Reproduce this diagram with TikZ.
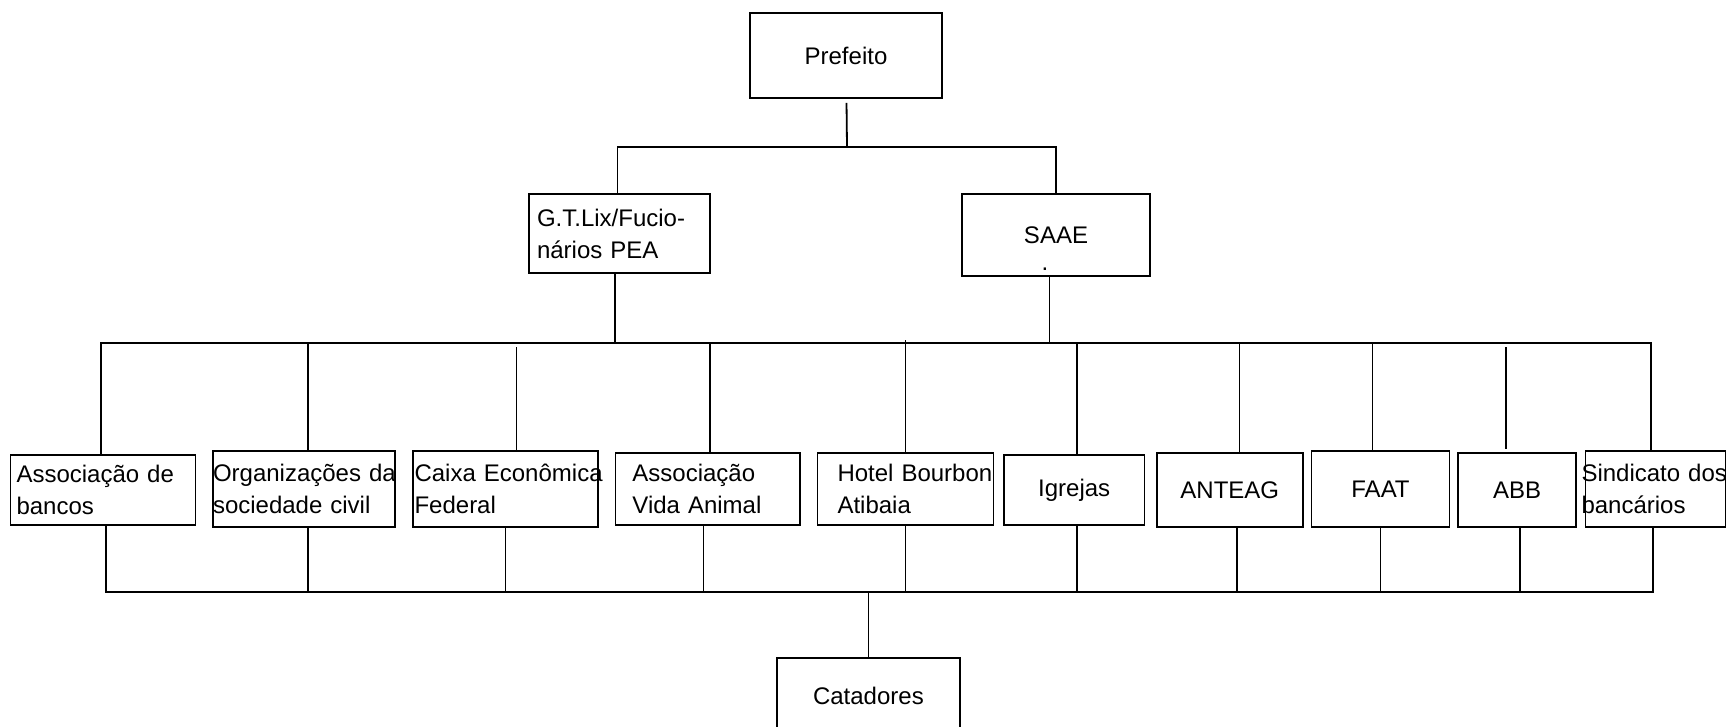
\documentclass[tikz,border=0pt]{standalone}
\usepackage{fontspec}
\setmainfont{Liberation Sans}
\usetikzlibrary{calc}
\tikzset{
    texto/.style={inner sep=0pt, font=\fontsize{24pt}{32pt}\selectfont},
    caixa/.style={texto, draw, line width=1.8pt},
    liga/.style={line width=1.8pt},
}

\begin{document}
\begin{tikzpicture}[x=1pt,y=-1pt]
    \useasboundingbox (0,0) rectangle (1726,727);
    \clip (0,0) rectangle (1726,727);
    \node[caixa, minimum width=192pt, minimum height=85pt] (pref) at (846,55.5) {Prefeito};
    \node[caixa, align=left, text width=165pt, inner xsep=8pt, minimum height=79pt] (gt) at (619.5,233.5) {\mbox{G.T.Lix/Fucio-}\\nários PEA};
    \node[caixa, minimum width=188pt, minimum height=82pt] (saae) at (1056,235) {SAAE};
    \node[texto] (ponto) at (1045,269) {.};

    \node[caixa, align=left, text width=173pt, inner xsep=6pt, minimum height=70pt] (assoc) at (103,490) {\mbox{Associação de}\\bancos};
    \node[caixa, align=left, text width=182pt, inner xsep=0pt, minimum height=76pt] (org) at (304,489) {\mbox{Organizações da}\\sociedade civil};
    \node[caixa, align=left, text width=181.7pt, inner xsep=1.5pt, minimum height=76pt] (caixa) at (505.4,489) {\mbox{Caixa Econômica}\\Federal};
    \node[caixa, align=left, text width=150.5pt, inner xsep=17pt, minimum height=72.3pt] (vida) at (707.7,488.8) {Associação\\Vida Animal};
    \node[caixa, align=left, text width=136pt, inner xsep=20pt, minimum height=72.3pt] (hotel) at (905.5,488.8) {\mbox{Hotel Bourbon}\\Atibaia};
    \node[caixa, minimum width=140.4pt, minimum height=70pt] (igr) at (1074.2,490) {Igrejas};
    \node[caixa, minimum width=145.6pt, minimum height=74.6pt] (ant) at (1229.8,490) {ANTEAG};
    \node[caixa, minimum width=138pt, minimum height=76.6pt] (faat) at (1380.5,489) {FAAT};
    \node[caixa, minimum width=117.7pt, minimum height=74.6pt] (abb) at (1517,490) {ABB};
    \node[caixa, align=left, text width=148pt, inner xsep=-4pt, minimum height=76.6pt] (sind) at (1655.5,489) {\mbox{Sindicato dos}\\bancários};

    \node[caixa, minimum width=182.7pt, minimum height=76pt, anchor=north] (cat) at (868.4,656.7) {Catadores};

    \coordinate (topo) at (847,147);
    \coordinate (meio) at (906,343);
    \coordinate (base) at (868,592);

    \draw[liga, shorten <=4pt] (pref) -- (topo);
    \draw[liga] ([xshift=-2pt]gt.north) |- (saae.north |- topo) -- (saae.north);

    \draw[liga] ([xshift=-4.5pt]gt.south) -- ([xshift=-4.5pt]gt.south |- meio);
    \draw[liga] ([xshift=-6.5pt]saae.south) -- ([xshift=-6.5pt]saae.south |- meio);

    \draw[liga] ([xshift=-2pt]assoc.north) |- ([xshift=-4.7pt]sind.north |- meio) -- ([xshift=-4.7pt]sind.north);
    \draw[liga] ([xshift=4pt]org.north) -- ([xshift=4pt]org.north |- meio);
    \draw[liga, shorten >=4pt] ([xshift=11pt]caixa.north) -- ([xshift=11pt]caixa.north |- meio);
    \draw[liga] ([xshift=2pt]vida.north) -- ([xshift=2pt]vida.north |- meio);
    \draw[liga, shorten >=-3pt] (hotel.north) -- (hotel.north |- meio);
    \draw[liga] ([xshift=2.4pt]igr.north) -- ([xshift=2.4pt]igr.north |- meio);
    \draw[liga] ([xshift=9.6pt]ant.north) -- ([xshift=9.6pt]ant.north |- meio);
    \draw[liga] ([xshift=-8pt]faat.north) -- ([xshift=-8pt]faat.north |- meio);
    \draw[liga, shorten <=3pt, shorten >=4pt] ([xshift=-11pt]abb.north) -- ([xshift=-11pt]abb.north |- meio);

    \draw[liga] ([xshift=2.6pt]assoc.south) |- ([xshift=-2.5pt]sind.south |- base) -- ([xshift=-2.5pt]sind.south);
    \draw[liga] ([xshift=4pt]org.south) -- ([xshift=4pt]org.south |- base);
    \draw[liga] (caixa.south) -- (caixa.south |- base);
    \draw[liga] ([xshift=-4.2pt]vida.south) -- ([xshift=-4.2pt]vida.south |- base);
    \draw[liga] (hotel.south) -- (hotel.south |- base);
    \draw[liga] ([xshift=2.4pt]igr.south) -- ([xshift=2.4pt]igr.south |- base);
    \draw[liga] ([xshift=7.2pt]ant.south) -- ([xshift=7.2pt]ant.south |- base);
    \draw[liga] (faat.south) -- (faat.south |- base);
    \draw[liga] ([xshift=3pt]abb.south) -- ([xshift=3pt]abb.south |- base);
    \draw[liga] (cat.north) -- (cat.north |- base);
\end{tikzpicture}
\end{document}
